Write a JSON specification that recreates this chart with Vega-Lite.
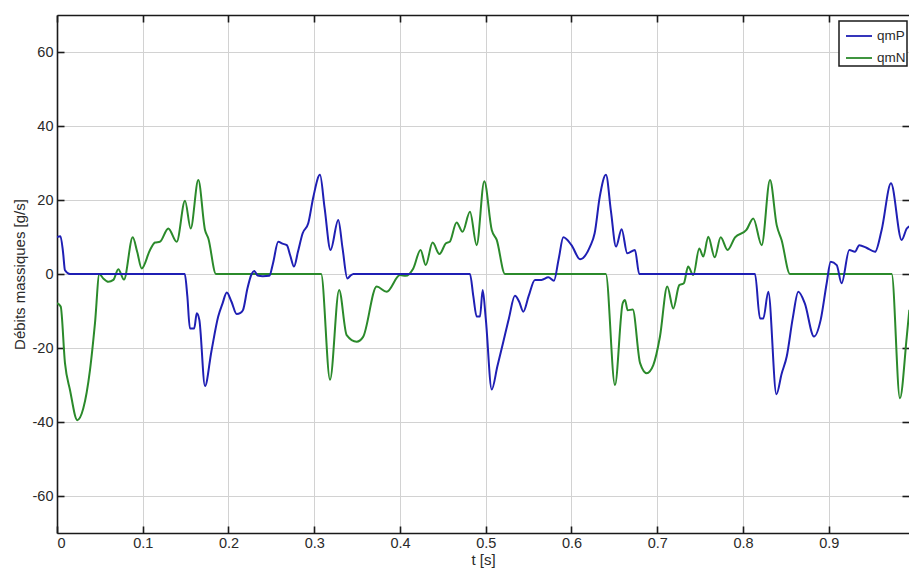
{
  "$schema": "https://vega.github.io/schema/vega-lite/v6.json",
  "width": 852,
  "height": 518,
  "autosize": {"type": "none"},
  "padding": {"left": 57, "top": 15, "right": 0, "bottom": 36},
  "background": "white",
  "config": {
    "view": {"stroke": null},
    "font": "Liberation Sans",
    "axis": {
      "domainColor": "#1a1a1a",
      "domainWidth": 1.6,
      "tickColor": "#1a1a1a",
      "tickWidth": 1.6,
      "tickSize": -7,
      "gridColor": "#d2d2d2",
      "gridWidth": 1,
      "labelFontSize": 14.5,
      "labelColor": "#2a2a2a",
      "titleFontSize": 15,
      "titleFontWeight": "normal",
      "titleColor": "#2a2a2a"
    },
    "legend": {
      "strokeColor": "#1a1a1a",
      "strokeWidth": 1.5,
      "fillColor": "white",
      "padding": 1,
      "symbolType": "stroke",
      "symbolSize": 676,
      "symbolStrokeWidth": 1.8,
      "symbolOffset": 5,
      "labelFontSize": 13.5,
      "labelColor": "#2a2a2a",
      "labelOffset": 4,
      "rowPadding": 1
    }
  },
  "data": {
    "values": [
      {"s": "qmN", "t": 0, "v": -7.9},
      {"s": "qmN", "t": 0.0043, "v": -8.8},
      {"s": "qmN", "t": 0.0093, "v": -24.1},
      {"s": "qmN", "t": 0.0152, "v": -31.4},
      {"s": "qmN", "t": 0.0237, "v": -39.5},
      {"s": "qmN", "t": 0.0307, "v": -36.3},
      {"s": "qmN", "t": 0.0385, "v": -25.9},
      {"s": "qmN", "t": 0.0443, "v": -13.3},
      {"s": "qmN", "t": 0.0494, "v": 0},
      {"s": "qmN", "t": 0.054, "v": -1.2},
      {"s": "qmN", "t": 0.0599, "v": -2.1},
      {"s": "qmN", "t": 0.0657, "v": -1.6},
      {"s": "qmN", "t": 0.0715, "v": 1.3},
      {"s": "qmN", "t": 0.0781, "v": -1.5},
      {"s": "qmN", "t": 0.0883, "v": 9.9},
      {"s": "qmN", "t": 0.0935, "v": 6},
      {"s": "qmN", "t": 0.0988, "v": 1.5},
      {"s": "qmN", "t": 0.1085, "v": 6.5},
      {"s": "qmN", "t": 0.1143, "v": 8.5},
      {"s": "qmN", "t": 0.12, "v": 8.7},
      {"s": "qmN", "t": 0.1298, "v": 12.3},
      {"s": "qmN", "t": 0.1396, "v": 8.7},
      {"s": "qmN", "t": 0.1493, "v": 19.8},
      {"s": "qmN", "t": 0.1559, "v": 12.3},
      {"s": "qmN", "t": 0.1648, "v": 25.4},
      {"s": "qmN", "t": 0.1726, "v": 11.9},
      {"s": "qmN", "t": 0.1765, "v": 9.6},
      {"s": "qmN", "t": 0.1854, "v": 0},
      {"s": "qmN", "t": 0.308, "v": 0},
      {"s": "qmN", "t": 0.3184, "v": -28.6},
      {"s": "qmN", "t": 0.329, "v": -4.3},
      {"s": "qmN", "t": 0.3378, "v": -16.5},
      {"s": "qmN", "t": 0.3495, "v": -18.3},
      {"s": "qmN", "t": 0.357, "v": -17},
      {"s": "qmN", "t": 0.3728, "v": -3.4},
      {"s": "qmN", "t": 0.3845, "v": -4.8},
      {"s": "qmN", "t": 0.4, "v": -0.3},
      {"s": "qmN", "t": 0.4066, "v": -0.5},
      {"s": "qmN", "t": 0.4155, "v": 1.5},
      {"s": "qmN", "t": 0.424, "v": 6.5},
      {"s": "qmN", "t": 0.43, "v": 2.4},
      {"s": "qmN", "t": 0.438, "v": 8.5},
      {"s": "qmN", "t": 0.446, "v": 5.4},
      {"s": "qmN", "t": 0.4536, "v": 8.3},
      {"s": "qmN", "t": 0.458, "v": 8.7},
      {"s": "qmN", "t": 0.466, "v": 13.9},
      {"s": "qmN", "t": 0.473, "v": 11.4},
      {"s": "qmN", "t": 0.4816, "v": 16.8},
      {"s": "qmN", "t": 0.4894, "v": 7.8},
      {"s": "qmN", "t": 0.4983, "v": 25.1},
      {"s": "qmN", "t": 0.507, "v": 11.9},
      {"s": "qmN", "t": 0.5128, "v": 9.2},
      {"s": "qmN", "t": 0.5224, "v": 0},
      {"s": "qmN", "t": 0.64, "v": 0},
      {"s": "qmN", "t": 0.6507, "v": -30},
      {"s": "qmN", "t": 0.6597, "v": -7.9},
      {"s": "qmN", "t": 0.6624, "v": -7.0},
      {"s": "qmN", "t": 0.6655, "v": -9.8},
      {"s": "qmN", "t": 0.6714, "v": -9.6},
      {"s": "qmN", "t": 0.68, "v": -24.1},
      {"s": "qmN", "t": 0.6877, "v": -26.8},
      {"s": "qmN", "t": 0.6954, "v": -24.6},
      {"s": "qmN", "t": 0.7032, "v": -16.9},
      {"s": "qmN", "t": 0.7117, "v": -3.4},
      {"s": "qmN", "t": 0.7187, "v": -9.3},
      {"s": "qmN", "t": 0.7257, "v": -3.0},
      {"s": "qmN", "t": 0.731, "v": -2.5},
      {"s": "qmN", "t": 0.736, "v": 2.0},
      {"s": "qmN", "t": 0.742, "v": -0.3},
      {"s": "qmN", "t": 0.749, "v": 6.9},
      {"s": "qmN", "t": 0.7537, "v": 4.7},
      {"s": "qmN", "t": 0.7595, "v": 10.1},
      {"s": "qmN", "t": 0.767, "v": 4.5},
      {"s": "qmN", "t": 0.774, "v": 9.9},
      {"s": "qmN", "t": 0.782, "v": 6.5},
      {"s": "qmN", "t": 0.7907, "v": 9.9},
      {"s": "qmN", "t": 0.804, "v": 11.9},
      {"s": "qmN", "t": 0.812, "v": 15.0},
      {"s": "qmN", "t": 0.8218, "v": 7.8},
      {"s": "qmN", "t": 0.8315, "v": 25.4},
      {"s": "qmN", "t": 0.8393, "v": 13.2},
      {"s": "qmN", "t": 0.845, "v": 9.2},
      {"s": "qmN", "t": 0.8548, "v": 0},
      {"s": "qmN", "t": 0.9734, "v": 0},
      {"s": "qmN", "t": 0.983, "v": -33.6},
      {"s": "qmN", "t": 0.991, "v": -16.9},
      {"s": "qmN", "t": 0.994, "v": -9.7},
      {"s": "qmP", "t": 0, "v": 10},
      {"s": "qmP", "t": 0.004, "v": 10.2},
      {"s": "qmP", "t": 0.007, "v": 6},
      {"s": "qmP", "t": 0.0093, "v": 1},
      {"s": "qmP", "t": 0.015, "v": 0},
      {"s": "qmP", "t": 0.149, "v": 0},
      {"s": "qmP", "t": 0.152, "v": -6},
      {"s": "qmP", "t": 0.155, "v": -14.7},
      {"s": "qmP", "t": 0.16, "v": -14.7},
      {"s": "qmP", "t": 0.163, "v": -10.6},
      {"s": "qmP", "t": 0.166, "v": -12.4},
      {"s": "qmP", "t": 0.1726, "v": -30.3},
      {"s": "qmP", "t": 0.18, "v": -21},
      {"s": "qmP", "t": 0.188, "v": -11.5},
      {"s": "qmP", "t": 0.193, "v": -8},
      {"s": "qmP", "t": 0.198, "v": -5.0},
      {"s": "qmP", "t": 0.2035, "v": -7.5},
      {"s": "qmP", "t": 0.2095, "v": -10.8},
      {"s": "qmP", "t": 0.214, "v": -10.5},
      {"s": "qmP", "t": 0.217, "v": -9.7},
      {"s": "qmP", "t": 0.222, "v": -4},
      {"s": "qmP", "t": 0.227, "v": 0},
      {"s": "qmP", "t": 0.23, "v": 0.8},
      {"s": "qmP", "t": 0.234, "v": -0.4},
      {"s": "qmP", "t": 0.24, "v": -0.6},
      {"s": "qmP", "t": 0.2476, "v": -0.5},
      {"s": "qmP", "t": 0.252, "v": 3},
      {"s": "qmP", "t": 0.258, "v": 8.7},
      {"s": "qmP", "t": 0.263, "v": 8.2},
      {"s": "qmP", "t": 0.268, "v": 7.8},
      {"s": "qmP", "t": 0.272, "v": 5},
      {"s": "qmP", "t": 0.2764, "v": 2.0},
      {"s": "qmP", "t": 0.281, "v": 6},
      {"s": "qmP", "t": 0.2865, "v": 11.0},
      {"s": "qmP", "t": 0.293, "v": 13.7},
      {"s": "qmP", "t": 0.299, "v": 20.9},
      {"s": "qmP", "t": 0.3067, "v": 26.8},
      {"s": "qmP", "t": 0.312, "v": 18},
      {"s": "qmP", "t": 0.319, "v": 6.5},
      {"s": "qmP", "t": 0.328, "v": 14.6},
      {"s": "qmP", "t": 0.333, "v": 7},
      {"s": "qmP", "t": 0.3386, "v": -1.2},
      {"s": "qmP", "t": 0.342, "v": -0.5},
      {"s": "qmP", "t": 0.3456, "v": 0},
      {"s": "qmP", "t": 0.4816, "v": 0},
      {"s": "qmP", "t": 0.4855, "v": -6},
      {"s": "qmP", "t": 0.4894, "v": -11.5},
      {"s": "qmP", "t": 0.4933, "v": -11.5},
      {"s": "qmP", "t": 0.4964, "v": -4.3},
      {"s": "qmP", "t": 0.5, "v": -12},
      {"s": "qmP", "t": 0.507, "v": -31.2},
      {"s": "qmP", "t": 0.5135, "v": -25},
      {"s": "qmP", "t": 0.5205, "v": -18.3},
      {"s": "qmP", "t": 0.527, "v": -12},
      {"s": "qmP", "t": 0.534, "v": -5.9},
      {"s": "qmP", "t": 0.539, "v": -7.5},
      {"s": "qmP", "t": 0.5438, "v": -10.2},
      {"s": "qmP", "t": 0.55, "v": -6},
      {"s": "qmP", "t": 0.5574, "v": -1.6},
      {"s": "qmP", "t": 0.565, "v": -1.6},
      {"s": "qmP", "t": 0.573, "v": -0.9},
      {"s": "qmP", "t": 0.5796, "v": -1.8},
      {"s": "qmP", "t": 0.585, "v": 4},
      {"s": "qmP", "t": 0.5905, "v": 9.9},
      {"s": "qmP", "t": 0.6, "v": 7.8},
      {"s": "qmP", "t": 0.61, "v": 4.0},
      {"s": "qmP", "t": 0.6216, "v": 7.4},
      {"s": "qmP", "t": 0.627, "v": 11},
      {"s": "qmP", "t": 0.633, "v": 20.9},
      {"s": "qmP", "t": 0.6402, "v": 26.8},
      {"s": "qmP", "t": 0.646, "v": 17},
      {"s": "qmP", "t": 0.6519, "v": 7.4},
      {"s": "qmP", "t": 0.6585, "v": 12.1},
      {"s": "qmP", "t": 0.665, "v": 5.6},
      {"s": "qmP", "t": 0.674, "v": 6.5},
      {"s": "qmP", "t": 0.679, "v": 0},
      {"s": "qmP", "t": 0.814, "v": 0},
      {"s": "qmP", "t": 0.8198, "v": -12},
      {"s": "qmP", "t": 0.8237, "v": -12},
      {"s": "qmP", "t": 0.8295, "v": -4.8},
      {"s": "qmP", "t": 0.839, "v": -32.5},
      {"s": "qmP", "t": 0.845, "v": -27},
      {"s": "qmP", "t": 0.851, "v": -22.3},
      {"s": "qmP", "t": 0.858, "v": -12},
      {"s": "qmP", "t": 0.8645, "v": -4.8},
      {"s": "qmP", "t": 0.872, "v": -7.9},
      {"s": "qmP", "t": 0.8828, "v": -16.9},
      {"s": "qmP", "t": 0.8906, "v": -12.4},
      {"s": "qmP", "t": 0.8976, "v": -2.5},
      {"s": "qmP", "t": 0.9023, "v": 3.3},
      {"s": "qmP", "t": 0.9093, "v": 2.4},
      {"s": "qmP", "t": 0.915, "v": -2.5},
      {"s": "qmP", "t": 0.924, "v": 6.5},
      {"s": "qmP", "t": 0.9306, "v": 6.0},
      {"s": "qmP", "t": 0.9356, "v": 7.8},
      {"s": "qmP", "t": 0.944, "v": 7.1},
      {"s": "qmP", "t": 0.954, "v": 6.0},
      {"s": "qmP", "t": 0.9617, "v": 11.9},
      {"s": "qmP", "t": 0.9726, "v": 24.5},
      {"s": "qmP", "t": 0.985, "v": 9.2},
      {"s": "qmP", "t": 0.991, "v": 12.3},
      {"s": "qmP", "t": 0.994, "v": 12.9}
    ]
  },
  "layer": [
    {
      "mark": {"type": "line", "strokeWidth": 2, "interpolate": "monotone", "clip": true},
      "encoding": {
        "x": {
          "field": "t", "type": "quantitative",
          "scale": {"domain": [0, 0.9936], "nice": false, "zero": false},
          "axis": {
            "orient": "bottom", "title": "t [s]",
            "values": [0, 0.1, 0.2, 0.3, 0.4, 0.5, 0.6, 0.7, 0.8, 0.9],
            "format": "~g", "labelPadding": 10, "titlePadding": 3, "grid": true
          }
        },
        "y": {
          "field": "v", "type": "quantitative",
          "scale": {"domain": [-70, 70], "nice": false},
          "axis": {
            "orient": "left", "title": "Débits massiques [g/s]",
            "values": [-60, -40, -20, 0, 20, 40, 60],
            "labelExpr": "'' + datum.value", "labelPadding": 11, "titlePadding": 5, "grid": true
          }
        },
        "color": {
          "field": "s", "type": "nominal",
          "scale": {"domain": ["qmP", "qmN"], "range": ["#1f1fb4", "#2b8a2b"]},
          "legend": {"title": null, "orient": "none", "legendX": 782, "legendY": 6}
        }
      }
    },
    {
      "mark": {"type": "line", "opacity": 0},
      "encoding": {
        "x": {
          "field": "t", "type": "quantitative",
          "axis": {
            "orient": "top", "title": null, "labels": false, "grid": false,
            "values": [0, 0.1, 0.2, 0.3, 0.4, 0.5, 0.6, 0.7, 0.8, 0.9]
          }
        },
        "y": {
          "field": "v", "type": "quantitative",
          "axis": {
            "orient": "right", "title": null, "labels": false, "grid": false, "domain": false,
            "values": [-60, -40, -20, 0, 20, 40]
          }
        },
        "detail": {"field": "s"}
      }
    }
  ],
  "resolve": {"axis": {"x": "independent", "y": "independent"}}
}
